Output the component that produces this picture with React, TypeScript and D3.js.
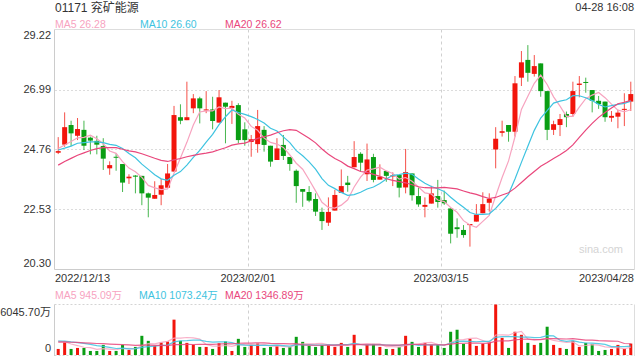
import React from 'react';
import * as d3 from 'd3';

const opens = [24.64,24.94,25.67,25.27,25.49,25.20,25.08,24.89,24.06,24.49,
  24.22,23.69,23.79,23.78,23.13,22.93,23.08,23.34,23.94,25.96,
  25.85,26.29,26.66,26.21,26.25,25.76,26.50,26.30,26.41,25.51,
  25.04,24.96,25.49,24.90,24.37,24.93,24.48,23.97,23.29,23.18,
  22.92,22.44,22.04,22.49,23.15,23.53,24.10,24.60,23.84,24.48,
  23.64,23.96,23.76,23.81,23.35,23.87,23.03,22.63,22.75,23.03,
  22.88,22.57,21.87,21.77,21.95,22.08,22.39,22.78,24.76,25.38,
  25.67,25.42,27.43,28.09,27.57,27.96,26.93,25.49,25.67,26.08,
  26.08,27.16,27.27,26.97,26.57,26.54,25.94,25.98,26.24,26.54];
const highs = [25.22,26.14,25.83,25.93,25.83,25.24,25.27,25.18,24.32,24.62,
  24.22,23.84,23.81,23.78,23.16,23.58,23.67,24.22,26.38,26.44,
  27.28,26.82,26.72,26.93,26.72,26.97,26.50,26.57,26.48,25.77,
  25.30,26.23,25.63,24.90,25.18,25.30,24.48,24.02,23.29,23.40,
  23.13,22.60,22.98,23.26,24.02,23.78,25.07,24.66,24.98,24.60,
  24.21,23.96,23.91,23.81,24.78,23.87,23.36,22.98,23.41,23.63,
  23.23,22.57,22.20,21.95,21.99,22.73,23.17,23.13,25.59,25.83,
  25.67,27.49,28.42,28.64,28.27,27.96,26.93,25.83,26.08,26.17,
  27.28,27.49,27.43,26.97,26.75,26.54,26.19,26.23,26.85,27.28];
const lows = [24.59,24.86,24.89,25.11,24.74,24.58,24.58,24.00,23.82,23.97,
  23.18,23.48,23.13,22.69,22.24,22.93,22.69,23.34,23.94,25.70,
  25.85,26.11,25.73,26.11,25.51,25.76,24.99,25.71,24.99,24.90,
  24.49,24.64,24.68,24.12,24.37,24.37,23.97,22.78,22.63,22.80,
  22.29,21.77,21.92,22.49,23.15,23.19,24.10,23.94,23.59,23.54,
  23.64,23.56,23.40,22.98,23.13,22.86,22.63,22.24,22.75,22.60,
  22.70,21.27,21.48,21.48,21.15,22.08,22.39,22.45,24.06,25.24,
  25.05,25.24,27.12,27.28,27.47,26.72,25.11,25.30,25.26,25.59,
  25.98,26.70,26.87,26.14,26.27,25.79,25.79,25.55,25.63,26.19];
const closes = [24.70,25.59,25.36,25.52,24.90,25.09,24.94,24.42,24.18,24.46,
  23.53,23.75,23.75,23.13,22.97,23.07,23.43,23.87,26.04,25.83,
  25.96,26.66,26.29,26.25,25.82,26.70,26.35,26.38,25.11,25.11,
  25.14,25.63,24.93,24.31,24.80,24.52,24.22,23.40,23.19,22.86,
  22.45,22.10,22.44,23.07,23.40,23.44,24.48,24.27,24.39,23.63,
  23.75,23.78,23.80,23.34,23.92,23.06,22.72,22.70,23.13,22.81,
  22.76,21.63,21.80,21.58,21.99,22.34,22.73,22.93,25.16,25.44,
  25.42,27.22,28.00,27.61,27.86,26.93,25.49,25.70,25.89,25.96,
  26.93,27.21,27.24,26.57,26.45,25.96,26.01,26.13,26.27,26.82];
// volume in 万
const volumes = [725,1491,725,846,846,484,484,1209,484,484,
  1209,605,967,2297,1693,1088,1491,1612,4232,1693,
  1451,1209,967,967,725,1411,1612,484,1934,967,
  1209,1370,846,967,1088,846,967,2176,1572,1088,
  967,1209,1209,967,1451,967,2418,725,1209,1330,
  967,725,725,967,2297,1572,967,1451,1209,1209,
  846,2781,3023,1330,1934,1088,1330,1572,6045.7,2055,
  846,2781,2418,1451,1209,1451,3385,1209,846,725,
  1693,967,1451,1330,484,605,725,1209,725,1370];
// sessions before the visible window (needed for the moving averages)
const prevCloses = [22.90,23.05,23.20,23.10,23.35,23.50,23.72,24.10,24.50,24.78,
  24.90,24.60,24.45,24.65,24.80,24.95,24.70,24.85,24.80];
const prevVolumes = [1200,1500,1350,1600,1400,1250,1550,1450,1300,1700,
  1500,1800,1650,1700,1700,1900,2100,1750,1875];

const priceTicks = [29.22, 26.99, 24.76, 22.53, 20.30];
const volTickLabels = ['6045.70万', '0'];
const volMax = 6045.70;
const dateTickIdx = [0, 30, 60, 89];
const dateTickLabels = ['2022/12/13', '2023/02/01', '2023/03/15', '2023/04/28'];
const maPeriods = [5, 10, 20];
const maColors = ['#f7a3bf', '#3ec3e0', '#e9477c'];
const priceLegendValues = ['26.28', '26.60', '26.62'];
const volLegendValues = ['945.09万', '1073.24万', '1346.89万'];
const legendX = [55, 140, 225];
const title = '01171 兖矿能源';
const timeLabel = '04-28 16:08';

const UP = '#f2150c';
const DOWN = '#0a9e14';
const FONT = "'Liberation Sans', Arial, 'Noto Sans CJK SC', sans-serif";

function movingAvg(prev: number[], vals: number[], n: number): number[] {
  const all = prev.concat(vals);
  const off = prev.length;
  return vals.map((_, i) => {
    const end = off + i;
    const slice = all.slice(end - n + 1, end + 1);
    return d3.mean(slice) as number;
  });
}

export default function App() {
  const N = closes.length;
  const x = d3.scaleBand<number>().domain(d3.range(N)).range([55, 634]);
  const bw = x.bandwidth();
  const cx = (i: number) => (x(i) as number) + bw / 2;
  const y = d3.scaleLinear().domain([20.30, 29.22]).range([269.5, 29.5]);
  const yv = d3.scaleLinear().domain([0, volMax]).range([355, 304.5]);

  const priceLine = d3.line<number>().x((_, i) => cx(i)).y(d => y(d));
  const volLine = d3.line<number>().x((_, i) => cx(i)).y(d => yv(d));

  const priceMAs = maPeriods.map(p => movingAvg(prevCloses, closes, p));
  const volMAs = maPeriods.map(p => movingAvg(prevVolumes, volumes, p));

  const bodyW = 5;
  const volW = 3;

  return (
    <svg width={640} height={360} style={{ position: 'absolute', left: 0, top: 0, background: '#fff' }}
      fontFamily={FONT}>
      {/* header */}
      <text x={55} y={12} fontSize={12} fill="#333">{title}</text>
      <text x={634} y={11} fontSize={11} fill="#333" textAnchor="end">{timeLabel}</text>
      {maPeriods.map((p, k) => (
        <text key={'pl' + p} x={legendX[k]} y={28} fontSize={10.5} fill={maColors[k]}>
          {`MA${p} ${priceLegendValues[k]}`}
        </text>
      ))}

      {/* price grid */}
      {priceTicks.slice(1, 4).map(t => (
        <line key={'g' + t} x1={55} x2={634} y1={Math.round(y(t)) + 0.5} y2={Math.round(y(t)) + 0.5}
          stroke="#dcdcdc" strokeDasharray="2,2" />
      ))}
      {dateTickIdx.slice(1, 3).map(i => (
        <g key={'vg' + i}>
          <line x1={Math.round(x(i) as number) + 0.5} x2={Math.round(x(i) as number) + 0.5} y1={29.5} y2={269.5}
            stroke="#d0d0d0" strokeDasharray="3,3" />
          <line x1={Math.round(x(i) as number) + 0.5} x2={Math.round(x(i) as number) + 0.5} y1={304.5} y2={355.5}
            stroke="#d0d0d0" strokeDasharray="3,3" />
        </g>
      ))}
      <line x1={54.5} x2={634.5} y1={29.5} y2={29.5} stroke="#dddddd" />
      <line x1={634.5} x2={634.5} y1={29.5} y2={269.5} stroke="#dddddd" />
      <line x1={54.5} x2={54.5} y1={29.5} y2={269.5} stroke="#cccccc" />
      <line x1={54.5} x2={634.5} y1={269.5} y2={269.5} stroke="#cccccc" />

      {/* price labels */}
      {priceTicks.map(t => {
        const yy = Math.min(Math.max(y(t), 35), 263);
        return (
          <text key={'pt' + t} x={51} y={yy} dy="0.35em" fontSize={11} fill="#333" textAnchor="end">
            {t.toFixed(2)}
          </text>
        );
      })}

      {/* date labels */}
      {dateTickIdx.map((i, k) => {
        const anchor = k === 0 ? 'start' : k === dateTickIdx.length - 1 ? 'end' : 'middle';
        const xx = k === 0 ? 55 : k === dateTickIdx.length - 1 ? 634 : (x(i) as number);
        return (
          <text key={'dt' + i} x={xx} y={281.5} fontSize={11} fill="#333" textAnchor={anchor}>
            {dateTickLabels[k]}
          </text>
        );
      })}

      {/* watermark */}
      <text x={623} y={253} fontSize={11} fill="#d4d4d4" textAnchor="end">sina.com</text>

      {/* candles */}
      {closes.map((c, i) => {
        const o = opens[i];
        const up = c >= o;
        const col = up ? UP : DOWN;
        const top = y(Math.max(o, c));
        const bot = y(Math.min(o, c));
        const xc = cx(i);
        return (
          <g key={'c' + i}>
            <line x1={xc} x2={xc} y1={y(highs[i])} y2={y(lows[i])} stroke={col} strokeWidth={1} strokeOpacity={0.75} />
            <rect x={xc - bodyW / 2} y={top} width={bodyW} height={Math.max(bot - top, 1)} fill={col} />
          </g>
        );
      })}

      {/* price MAs */}
      {priceMAs.map((m, k) => (
        <path key={'pm' + k} d={priceLine(m) as string} fill="none" stroke={maColors[k]} strokeWidth={1.2} />
      ))}

      {/* volume panel */}
      {maPeriods.map((p, k) => (
        <text key={'vl' + p} x={k === 1 ? 139 : legendX[k]} y={299} fontSize={10.5} fill={maColors[k]}>
          {`MA${p} ${volLegendValues[k]}`}
        </text>
      ))}
      <text x={51} y={312} dy="0.35em" fontSize={11} fill="#333" textAnchor="end">{volTickLabels[0]}</text>
      <text x={51} y={348} dy="0.35em" fontSize={11} fill="#333" textAnchor="end">{volTickLabels[1]}</text>
      <line x1={54.5} x2={634.5} y1={304.5} y2={304.5} stroke="#d4d4d4" strokeDasharray="2,2" />
      <line x1={54.5} x2={634.5} y1={355.5} y2={355.5} stroke="#d4d4d4" strokeDasharray="2,2" />
      <line x1={54.5} x2={54.5} y1={304.5} y2={356} stroke="#cccccc" />
      <line x1={634.5} x2={634.5} y1={304.5} y2={356} stroke="#dddddd" />
      {volumes.map((v, i) => {
        const up = closes[i] >= opens[i];
        return (
          <rect key={'v' + i} x={cx(i) - volW / 2} y={yv(v)} width={volW} height={yv(0) - yv(v)}
            fill={up ? UP : DOWN} />
        );
      })}
      {volMAs.map((m, k) => (
        <path key={'vm' + k} d={volLine(m) as string} fill="none" stroke={maColors[k]} strokeWidth={1.2} strokeOpacity={0.85} />
      ))}
    </svg>
  );
}
